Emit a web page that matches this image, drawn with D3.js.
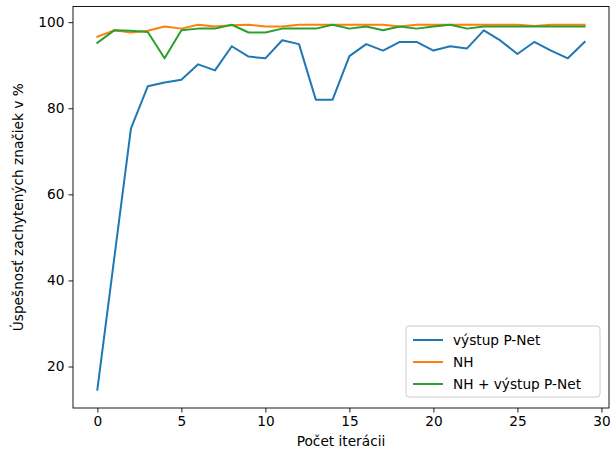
<!DOCTYPE html>
<html>
<head>
<meta charset="utf-8" />
<title>Úspešnosť zachytených značiek</title>
<style>
body { margin: 0; background: #fff; }
#graph { width: 610px; height: 452px; }
text { font-family: "DejaVu Sans", sans-serif; fill: #000; }
.axis path, .axis line { stroke: #000; stroke-width: 0.9px; }
.axis text { font-size: 13.7px; }
</style>
</head>
<body>
<div id="graph"></div>
<script src="https://d3js.org/d3.v7.min.js"></script>
<script>
// iterations 0..29
var iterations = d3.range(0, 30);

var pnet = [14.6, 45.0, 75.3, 85.1, 86.0, 86.6, 90.2, 88.8, 94.4, 92.0,
            91.6, 95.8, 94.9, 82.0, 82.0, 92.1, 94.9, 93.4, 95.4, 95.4,
            93.4, 94.4, 93.9, 98.1, 95.7, 92.6, 95.4, 93.4, 91.6, 95.4];

var nh = [96.6, 98.1, 97.6, 98.0, 99.0, 98.5, 99.4, 99.0, 99.3, 99.4,
          99.0, 99.0, 99.4, 99.4, 99.4, 99.4, 99.4, 99.4, 99.0, 99.4,
          99.4, 99.4, 99.4, 99.4, 99.4, 99.4, 99.1, 99.4, 99.4, 99.4];

var nhPnet = [95.2, 98.1, 98.0, 97.7, 91.6, 98.1, 98.5, 98.5, 99.4, 97.6,
              97.6, 98.5, 98.5, 98.5, 99.4, 98.5, 99.0, 98.1, 99.0, 98.5,
              99.0, 99.4, 98.5, 99.0, 99.0, 99.0, 99.0, 99.0, 99.0, 99.0];

var seriesNames = ["výstup P-Net", "NH", "NH + výstup P-Net"];
var seriesColors = ["#1f77b4", "#ff7f0e", "#2ca02c"];
var xTicks = [0, 5, 10, 15, 20, 25, 30];
var yTicks = [20, 40, 60, 80, 100];

!(function(){
    "use strict"
    var width = 610, height = 452;
    var margin = {top: 6.5, left: 73, bottom: 44, right: 1};
    var chartWidth = width - margin.left - margin.right;
    var chartHeight = height - margin.top - margin.bottom;

    var svg = d3.select("#graph").append("svg")
        .attr("width", width).attr("height", height);
    var chartLayer = svg.append("g")
        .attr("transform", "translate(" + [margin.left, margin.top] + ")");

    var allVals = pnet.concat(nh, nhPnet);
    var ymin = d3.min(allVals), ymax = d3.max(allVals);
    var ypad = (ymax - ymin) * 0.05;
    var xpad = (d3.max(iterations) - d3.min(iterations)) * 0.05;

    var xScale = d3.scaleLinear()
        .domain([d3.min(iterations) - xpad, d3.max(iterations) + xpad])
        .range([0, chartWidth]);
    var yScale = d3.scaleLinear()
        .domain([ymin - ypad, ymax + ypad])
        .range([chartHeight, 0]);

    var data = [pnet, nh, nhPnet];
    var lineGen = d3.line()
        .x(function(d, i){ return xScale(iterations[i]) })
        .y(function(d){ return yScale(d) });

    chartLayer.selectAll(".line")
        .data(data)
        .enter().append("path")
        .attr("class", "line")
        .attr("d", lineGen)
        .attr("fill", "none")
        .attr("stroke", function(d, i){ return seriesColors[i] })
        .attr("stroke-width", 2)
        .attr("stroke-linejoin", "round")
        .attr("stroke-linecap", "square");

    // axes
    var xAxis = d3.axisBottom(xScale).tickValues(xTicks).tickSizeInner(4.5).tickSizeOuter(0).tickPadding(4);
    var yAxis = d3.axisLeft(yScale).tickValues(yTicks).tickSizeInner(4.5).tickSizeOuter(0).tickPadding(4);

    chartLayer.append("g").attr("class", "axis x")
        .attr("transform", "translate(0," + chartHeight + ")")
        .call(xAxis)
        .select(".domain").remove();
    chartLayer.append("g").attr("class", "axis y")
        .call(yAxis)
        .select(".domain").remove();

    // frame
    chartLayer.append("rect")
        .attr("width", chartWidth).attr("height", chartHeight)
        .attr("fill", "none").attr("stroke", "#000").attr("stroke-width", 0.9);

    // labels
    svg.append("text")
        .attr("x", margin.left + chartWidth / 2)
        .attr("y", 446)
        .attr("text-anchor", "middle")
        .style("font-size", "13.7px")
        .text("Počet iterácii");
    svg.append("text")
        .attr("transform", "translate(23," + (margin.top + chartHeight / 2) + ") rotate(-90)")
        .attr("text-anchor", "middle")
        .style("font-size", "13.7px")
        .text("Úspešnosť zachytených značiek v %");

    // legend
    var legend = svg.append("g").attr("transform", "translate(406,326)");
    legend.append("rect")
        .attr("width", 194).attr("height", 71)
        .attr("rx", 3)
        .attr("fill", "#fff").attr("fill-opacity", 0.8)
        .attr("stroke", "#ccc").attr("stroke-width", 1);
    var rows = legend.selectAll(".row")
        .data(seriesNames)
        .enter().append("g")
        .attr("transform", function(d, i){ return "translate(0," + (14 + i * 22) + ")" });
    rows.append("line")
        .attr("x1", 7).attr("x2", 37)
        .attr("stroke", function(d, i){ return seriesColors[i] })
        .attr("stroke-width", 2);
    rows.append("text")
        .attr("x", 47).attr("y", 4.8)
        .style("font-size", "13.7px")
        .text(function(d){ return d });
}());
</script>
</body>
</html>
